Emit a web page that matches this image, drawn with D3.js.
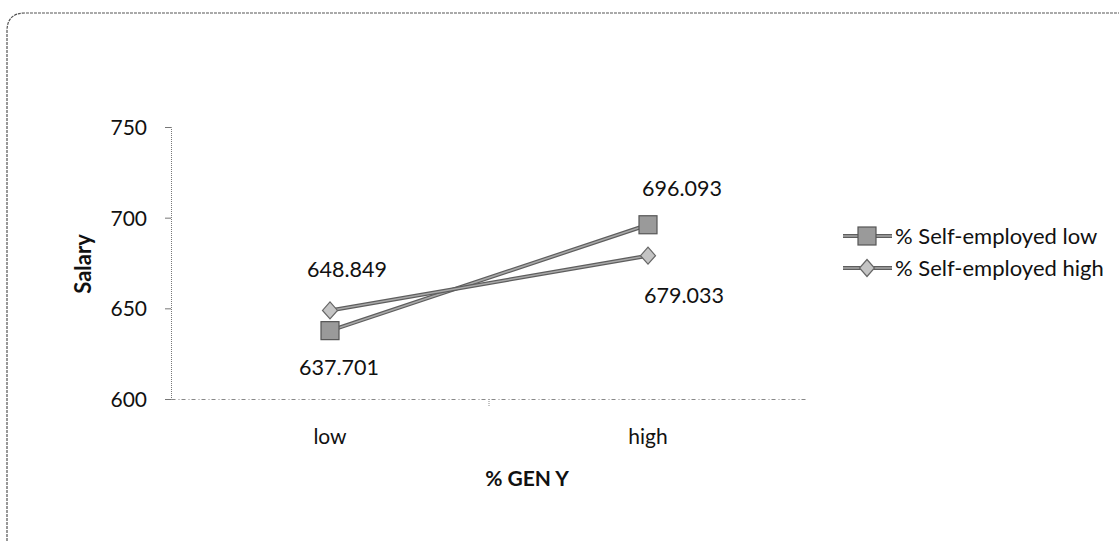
<!DOCTYPE html>
<html>
<head>
<meta charset="utf-8">
<script src="https://cdn.jsdelivr.net/npm/d3@7"></script>
<style>
body { margin: 0; background: #fff; }
text { font-family: Lato, "Open Sans", sans-serif; fill: #111; }
</style>
</head>
<body>
<svg id="chart" width="1119" height="541"></svg>
<script>
var categories = ["low", "high"];
var seriesNames = ["% Self-employed low", "% Self-employed high"];
var selfEmpLow = [637.701, 696.093];
var selfEmpHigh = [648.849, 679.033];
var yTicks = [600, 650, 700, 750];

var svg = d3.select("#chart");

// outer chart border
svg.append("path")
    .attr("d", "M7,541 L7,31 Q7,13 25,13 L1119,13")
    .attr("fill", "none")
    .attr("stroke", "#555")
    .attr("stroke-width", 1.2)
    .attr("stroke-dasharray", "3,1");

var plotL = 171, plotR = 807, plotT = 127, plotB = 399;

var x = d3.scaleBand().domain(categories).range([plotL, plotR]);
var y = d3.scaleLinear().domain([600, 750]).range([plotB, plotT]);

var g = svg.append("g");

// y axis
var yAxis = g.append("g")
    .attr("transform", "translate(" + plotL + ",0)")
    .call(d3.axisLeft(y).tickValues(yTicks).tickSize(6).tickPadding(18));
yAxis.select(".domain").attr("stroke", "#777").attr("stroke-dasharray", "1,1");
yAxis.selectAll(".tick line").attr("stroke", "#777");
yAxis.selectAll("text").style("font-size", "21px").attr("fill", "#111").attr("dy", "0.35em");

// x axis
var xAxis = g.append("g")
    .attr("transform", "translate(0," + plotB + ")")
    .call(d3.axisBottom(x).tickSize(0).tickPadding(30));
xAxis.select(".domain").attr("stroke", "#888").attr("stroke-dasharray", "4,3,1,2");
xAxis.selectAll("text").style("font-size", "21px").attr("fill", "#111");
// middle tick between categories
g.append("line")
    .attr("x1", x("high")).attr("x2", x("high"))
    .attr("y1", plotB).attr("y2", plotB + 7)
    .attr("stroke", "#888").attr("stroke-dasharray", "1,1");

// axis titles
svg.append("text")
    .attr("transform", "translate(91,264) rotate(-90)")
    .attr("text-anchor", "middle")
    .style("font-size", "22px").style("font-weight", "bold")
    .text("Salary");
svg.append("text")
    .attr("x", 527).attr("y", 486)
    .attr("text-anchor", "middle")
    .style("font-size", "21px").style("font-weight", "bold")
    .text("% GEN Y");

var cx = function(i) { return x(categories[i]) + x.bandwidth() / 2; };

var line = d3.line()
    .x(function(d, i) { return cx(i); })
    .y(function(d) { return y(d); });

var series = [
    { name: seriesNames[0], values: selfEmpLow, marker: "square", fill: "#9a9a9a" },
    { name: seriesNames[1], values: selfEmpHigh, marker: "diamond", fill: "#c4c4c4" }
];

function marker(sel, type, fill) {
    if (type === "square") {
        sel.append("rect")
            .attr("x", -9).attr("y", -9).attr("width", 18).attr("height", 18)
            .attr("fill", fill).attr("stroke", "#555").attr("stroke-width", 1.2);
    } else {
        sel.append("path")
            .attr("d", "M0,-8.5 L7.5,0 L0,8.5 L-7.5,0 Z")
            .attr("fill", fill).attr("stroke", "#666").attr("stroke-width", 1.2);
    }
}

// two-tone line: dark edge with lighter core
function drawLine(sel, d) {
    sel.append("path").attr("d", d).attr("fill", "none")
        .attr("stroke", "#5e5e5e").attr("stroke-width", 4);
    sel.append("path").attr("d", d).attr("fill", "none")
        .attr("stroke", "#a8a8a8").attr("stroke-width", 1.6);
}

series.forEach(function(s) {
    drawLine(g, line(s.values));
});
series.forEach(function(s) {
    s.values.forEach(function(v, i) {
        var m = g.append("g").attr("transform", "translate(" + cx(i) + "," + y(v) + ")");
        marker(m, s.marker, s.fill);
    });
});

// data labels
var labels = [
    { v: selfEmpLow[0], i: 0, dx: 9, dy: 44 },
    { v: selfEmpLow[1], i: 1, dx: 34, dy: -29 },
    { v: selfEmpHigh[0], i: 0, dx: 17, dy: -33 },
    { v: selfEmpHigh[1], i: 1, dx: 36, dy: 47 }
];
labels.forEach(function(l) {
    svg.append("text")
        .attr("x", cx(l.i) + l.dx).attr("y", y(l.v) + l.dy)
        .attr("text-anchor", "middle")
        .style("font-size", "21.5px")
        .text(d3.format(".3f")(l.v));
});

// legend
var legend = svg.append("g").attr("transform", "translate(843,236)");
series.forEach(function(s, i) {
    var row = legend.append("g").attr("transform", "translate(0," + (i * 32) + ")");
    drawLine(row, "M0,0 L49,0");
    var m = row.append("g").attr("transform", "translate(24,0)");
    marker(m, s.marker, s.fill);
    row.append("text").attr("x", 52).attr("y", 8)
        .style("font-size", "22px")
        .text(s.name);
});
</script>
</body>
</html>
